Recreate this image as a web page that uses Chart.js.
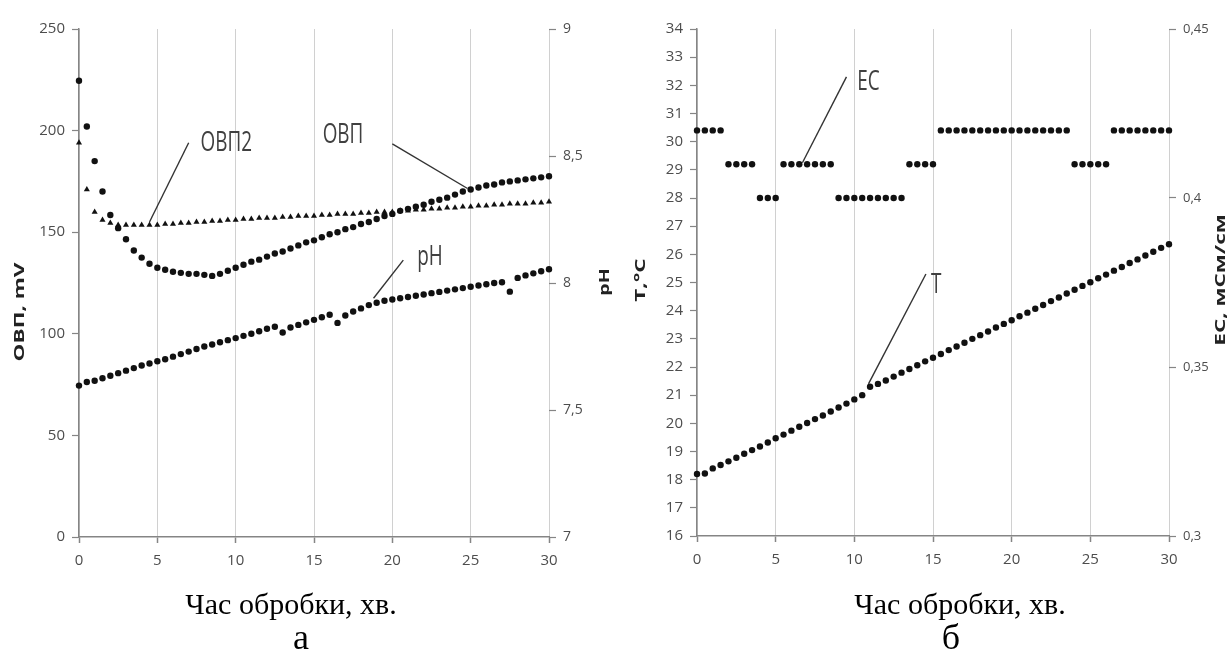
<!DOCTYPE html>
<html>
<head>
<meta charset="utf-8">
<script src="https://cdn.jsdelivr.net/npm/chart.js@4.4.1/dist/chart.umd.min.js"></script>
<style>
  html, body { margin: 0; padding: 0; background: #fff; }
  #wrap { position: relative; width: 1232px; height: 655px; overflow: hidden; background: #fff; }
  .panel { position: absolute; top: 0; width: 616px; height: 655px; }
</style>
</head>
<body>
<div id="wrap">
  <div class="panel" style="left:0"><canvas id="chartA" width="616" height="655"></canvas></div>
  <div class="panel" style="left:616px"><canvas id="chartB" width="616" height="655"></canvas></div>
</div>
<script>
// Treatment time, minutes (one reading every 30 s)
const minutes = [0,0.5,1,1.5,2,2.5,3,3.5,4,4.5,5,
  5.5,6,6.5,7,7.5,8,8.5,9,9.5,10,
  10.5,11,11.5,12,12.5,13,13.5,14,14.5,15,
  15.5,16,16.5,17,17.5,18,18.5,19,19.5,20,
  20.5,21,21.5,22,22.5,23,23.5,24,24.5,25,
  25.5,26,26.5,27,27.5,28,28.5,29,29.5,30];

// ОВП, mV
const orpValues = [224.5,202,185,170,158.5,152,146.5,141,137.5,134.5,132.5,
  131.5,130.5,130,129.5,129.5,129,128.5,129.5,131,132.5,
  134,135.5,136.5,138,139.5,140.5,142,143.5,145,146,
  147.5,149,150,151.5,152.5,154,155,156.5,158,159,
  160.5,161.5,162.5,163.5,165,166,167,168.5,170,171,
  172,173,173.5,174.5,175,175.5,176,176.5,177,177.5];

// ОВП2, mV
const orp2Values = [194,171,160,156,154.5,153.5,153.5,153.5,153.5,153.5,153.5,
  154,154,154.5,154.5,155,155,155.5,155.5,156,156,
  156.5,156.5,157,157,157,157.5,157.5,158,158,158,
  158.5,158.5,159,159,159,159.5,159.5,160,160,160,
  160.5,160.5,161,161,161.5,161.5,162,162,162.5,162.5,
  163,163,163.5,163.5,164,164,164,164.5,164.5,165];

// pH
const phValues = [7.596,7.61,7.615,7.625,7.635,7.645,7.655,7.665,7.675,7.683,7.692,
  7.70,7.71,7.72,7.73,7.74,7.75,7.758,7.767,7.775,7.783,
  7.792,7.80,7.81,7.82,7.828,7.805,7.825,7.835,7.845,7.855,
  7.865,7.875,7.843,7.872,7.888,7.90,7.913,7.922,7.93,7.935,
  7.94,7.945,7.95,7.955,7.96,7.965,7.97,7.975,7.98,7.985,
  7.99,7.995,8.00,8.003,7.966,8.02,8.03,8.038,8.046,8.054];

// T, °C
const tempValues = [18.20,18.22,18.40,18.52,18.65,18.78,18.92,19.05,19.18,19.32,19.47,
  19.60,19.74,19.88,20.01,20.15,20.28,20.42,20.56,20.70,20.85,
  21.00,21.30,21.40,21.52,21.66,21.80,21.93,22.06,22.20,22.33,
  22.46,22.60,22.73,22.86,23.00,23.13,23.26,23.40,23.53,23.66,
  23.80,23.93,24.07,24.20,24.34,24.47,24.61,24.74,24.88,25.01,
  25.15,25.28,25.42,25.55,25.69,25.82,25.96,26.09,26.23,26.36];

// EC, мСм/см
const ecValues = [0.42,0.42,0.42,0.42,0.41,0.41,0.41,0.41,0.40,0.40,0.40,
  0.41,0.41,0.41,0.41,0.41,0.41,0.41,0.40,0.40,0.40,
  0.40,0.40,0.40,0.40,0.40,0.40,0.41,0.41,0.41,0.41,
  0.42,0.42,0.42,0.42,0.42,0.42,0.42,0.42,0.42,0.42,
  0.42,0.42,0.42,0.42,0.42,0.42,0.42,0.41,0.41,0.41,
  0.41,0.41,0.42,0.42,0.42,0.42,0.42,0.42,0.42,0.42];

// Tick labels
const timeTicks = [0,5,10,15,20,25,30];
const orpTicks = [0,50,100,150,200,250];
const phTicks = [7,7.5,8,8.5,9];
const tempTicks = [16,17,18,19,20,21,22,23,24,25,26,27,28,29,30,31,32,33,34];
const ecTicks = [0.3,0.35,0.4,0.45];

const AXIS_COLOR = '#858585';
const GRID_COLOR = '#d0d0d0';
const TICK_TEXT = '#4d4d4d';
const NOTE_TEXT = '#404040';
const SANS = '"Open Sans", "Liberation Sans", sans-serif';
const SERIF = '"Liberation Serif", "DejaVu Serif", serif';

const comma = v => String(Math.round(v * 100) / 100).replace('.', ',');
const points = ys => minutes.map((t, i) => ({ x: t, y: ys[i] }));
const fixedTicks = list => scale => { scale.ticks = list.map(v => ({ value: v })); };

function timeAxis(boxHeight) {
  return {
    type: 'linear', min: 0, max: 30,
    afterBuildTicks: fixedTicks(timeTicks),
    ticks: { font: { family: SANS, size: 15 }, color: TICK_TEXT, padding: 9, maxRotation: 0 },
    grid: { color: GRID_COLOR, lineWidth: 1, tickLength: 6, tickColor: AXIS_COLOR, tickWidth: 1.5 },
    border: { display: true, color: AXIS_COLOR, width: 1.5 },
    afterFit: s => { s.height = boxHeight; }
  };
}

function valueAxis(pos, min, max, list, width, size, fmt, showLine) {
  return {
    type: 'linear', position: pos, min, max,
    afterBuildTicks: fixedTicks(list),
    ticks: { font: { family: SANS, size }, color: TICK_TEXT, padding: 7, callback: fmt },
    grid: { drawOnChartArea: false, drawTicks: true, tickLength: 7, tickColor: AXIS_COLOR, tickWidth: 1.2 },
    border: { display: showLine, color: AXIS_COLOR, width: 1.5 },
    afterFit: s => { s.width = width; }
  };
}

function series(ys, axis, style, r) {
  return {
    data: points(ys), yAxisID: axis, showLine: false, clip: false,
    pointStyle: style, pointRadius: r, pointHoverRadius: r,
    backgroundColor: '#111', borderColor: '#111', borderWidth: 0
  };
}

function drawText(ctx, text, x, y, o) {
  ctx.save();
  ctx.translate(x, y);
  if (o.rotate) ctx.rotate(o.rotate);
  ctx.scale(o.sx || 1, o.sy || 1);
  ctx.font = o.font;
  ctx.fillStyle = o.color;
  ctx.textAlign = 'center';
  ctx.textBaseline = 'middle';
  ctx.fillText(text, 0, 0);
  ctx.restore();
}

// Leader-line callouts (in data units) plus axis and panel captions
const captions = {
  id: 'captions',
  afterDatasetsDraw(chart, args, opts) {
    const { ctx, scales } = chart;
    ctx.save();
    ctx.strokeStyle = '#333';
    ctx.lineWidth = 1.4;
    for (const n of opts.notes) {
      const ys = scales[n.axis], xs = scales.x;
      ctx.beginPath();
      ctx.moveTo(xs.getPixelForValue(n.line[0][0]), ys.getPixelForValue(n.line[0][1]));
      ctx.lineTo(xs.getPixelForValue(n.line[1][0]), ys.getPixelForValue(n.line[1][1]));
      ctx.stroke();
      drawText(ctx, n.text, xs.getPixelForValue(n.at[0]), ys.getPixelForValue(n.at[1]),
        { font: '21px ' + SANS, color: NOTE_TEXT, sx: 0.9, sy: 1.3 });
    }
    for (const c of opts.texts) drawText(ctx, c.text, c.x, c.y, c);
    ctx.restore();
  }
};

const titleBold = size => 'bold ' + size + 'px ' + SANS;

new Chart(document.getElementById('chartA'), {
  type: 'scatter',
  data: { datasets: [
    series(orpValues, 'y', 'circle', 3.2),
    series(orp2Values, 'y', 'triangle', 3.5),
    series(phValues, 'y2', 'circle', 3.2)
  ] },
  options: {
    responsive: false, animation: false, devicePixelRatio: 1,
    layout: { padding: { top: 29, left: 0, right: 0, bottom: 0 } },
    plugins: {
      legend: { display: false }, tooltip: { enabled: false },
      captions: {
        notes: [
          { text: 'ОВП2', at: [9.4, 194], axis: 'y', line: [[7.0, 194], [4.5, 155]] },
          { text: 'ОВП', at: [16.85, 197.5], axis: 'y', line: [[20.0, 193.5], [24.8, 171.5]] },
          { text: 'pH', at: [22.4, 8.10], axis: 'y2', line: [[20.7, 8.09], [18.8, 7.94]] }
        ],
        texts: [
          { text: 'ОВП, mV', x: 20, y: 312, rotate: -Math.PI / 2, sx: 1.5, font: titleBold(15), color: '#222' },
          { text: 'pH', x: 605, y: 282, rotate: -Math.PI / 2, sx: 1.3, font: titleBold(15), color: '#222' },
          { text: 'Час обробки, хв.', x: 291, y: 606, font: '30px ' + SERIF, color: '#000' },
          { text: 'а', x: 301, y: 640, font: '36px ' + SERIF, color: '#000' }
        ]
      }
    },
    scales: {
      x: timeAxis(118),
      y: valueAxis('left', 0, 250, orpTicks, 79, 15, v => String(v), true),
      y2: valueAxis('right', 7, 9, phTicks, 67, 14, comma, false)
    }
  },
  plugins: [captions]
});

new Chart(document.getElementById('chartB'), {
  type: 'scatter',
  data: { datasets: [
    series(tempValues, 'y', 'circle', 3.2),
    series(ecValues, 'y2', 'circle', 3.2)
  ] },
  options: {
    responsive: false, animation: false, devicePixelRatio: 1,
    layout: { padding: { top: 29, left: 0, right: 0, bottom: 0 } },
    plugins: {
      legend: { display: false }, tooltip: { enabled: false },
      captions: {
        notes: [
          { text: 'EC', at: [10.9, 32.1], axis: 'y', line: [[9.5, 32.3], [6.7, 29.25]] },
          { text: 'T', at: [15.2, 24.9], axis: 'y', line: [[14.55, 25.3], [10.9, 21.4]] }
        ],
        texts: [
          { text: 'T,°C', x: 25, y: 280, rotate: -Math.PI / 2, sx: 1.5, font: titleBold(15), color: '#222' },
          { text: 'EC, мСм/см', x: 605, y: 280, rotate: -Math.PI / 2, sx: 1.5, font: titleBold(15), color: '#222' },
          { text: 'Час обробки, хв.', x: 344, y: 606, font: '30px ' + SERIF, color: '#000' },
          { text: 'б', x: 335, y: 640, font: '36px ' + SERIF, color: '#000' }
        ]
      }
    },
    scales: {
      x: timeAxis(119),
      y: valueAxis('left', 16, 34, tempTicks, 81, 15, v => String(v), true),
      y2: valueAxis('right', 0.3, 0.45, ecTicks, 63, 13, comma, false)
    }
  },
  plugins: [captions]
});
</script>
</body>
</html>
